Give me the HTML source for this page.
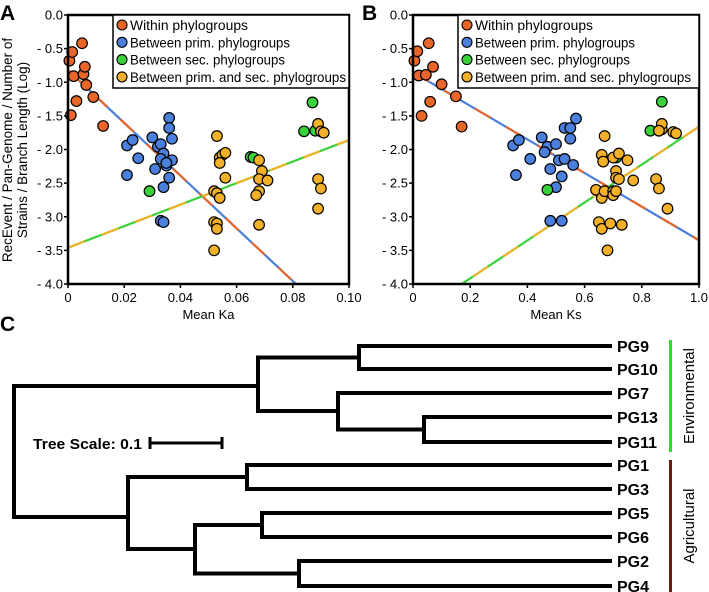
<!DOCTYPE html>
<html><head><meta charset="utf-8"><style>
body{margin:0;background:#fff;}
svg{display:block;font-family:"Liberation Sans",sans-serif;}
</style></head><body>
<svg id="fig" width="709" height="592" viewBox="0 0 709 592" xmlns="http://www.w3.org/2000/svg"></svg>
<script>
// Panel A data (Mean Ka)
const aWithinX=[0.0005,0.0015,0.001,0.002,0.003,0.005,0.0055,0.006,0.0065,0.009,0.0125];
const aWithinY=[-0.68,-0.55,-1.49,-0.91,-1.28,-0.42,-0.88,-0.77,-1.04,-1.22,-1.65];
const aPrimX=[0.021,0.023,0.021,0.025,0.030,0.032,0.033,0.034,0.033,0.031,0.035,0.036,0.036,0.037,0.037,0.036,0.034,0.033,0.034,0.035];
const aPrimY=[-1.94,-1.86,-2.38,-2.13,-1.82,-1.96,-1.92,-2.06,-2.14,-2.29,-2.24,-1.53,-1.68,-1.84,-2.16,-2.42,-2.56,-3.06,-3.08,-2.2];
const aSecX=[0.029,0.065,0.066,0.084,0.087,0.088];
const aSecY=[-2.62,-2.11,-2.12,-1.73,-1.3,-1.72];
const aMixX=[0.053,0.054,0.055,0.056,0.054,0.056,0.052,0.053,0.054,0.052,0.053,0.053,0.052,0.068,0.069,0.068,0.071,0.068,0.067,0.068,0.089,0.090,0.091,0.089,0.090,0.089];
const aMixY=[-1.8,-2.12,-2.08,-2.05,-2.2,-2.42,-2.62,-2.65,-2.72,-3.08,-3.1,-3.18,-3.5,-2.16,-2.32,-2.44,-2.46,-2.62,-2.68,-3.12,-1.62,-1.73,-1.75,-2.44,-2.58,-2.88];
const aFit1=[-0.82,-39.2]; // intercept, slope
const aFit2=[-3.46,16];
const aXTicks=["0","0.02","0.04","0.06","0.08","0.10"];
// Panel B data (Mean Ks)
const bWithinX=[0.005,0.015,0.02,0.03,0.045,0.055,0.06,0.07,0.10,0.15,0.17];
const bWithinY=[-0.68,-0.54,-0.9,-1.5,-0.89,-0.42,-1.29,-0.77,-1.03,-1.21,-1.66];
const bPrimX=[0.35,0.37,0.36,0.41,0.45,0.47,0.46,0.50,0.51,0.53,0.48,0.52,0.50,0.53,0.55,0.55,0.56,0.57,0.48,0.52];
const bPrimY=[-1.94,-1.86,-2.38,-2.14,-1.82,-1.96,-2.04,-1.92,-2.16,-2.14,-2.29,-2.4,-2.56,-1.68,-1.68,-1.84,-2.23,-1.54,-3.06,-3.06];
const bSecX=[0.47,0.71,0.83,0.87,0.86];
const bSecY=[-2.6,-2.12,-1.72,-1.29,-1.72];
const bMixX=[0.67,0.66,0.665,0.70,0.72,0.75,0.71,0.71,0.72,0.77,0.64,0.66,0.67,0.70,0.70,0.71,0.65,0.66,0.69,0.73,0.68,0.87,0.87,0.86,0.91,0.92,0.85,0.86,0.89];
const bMixY=[-1.8,-2.08,-2.18,-2.12,-2.06,-2.16,-2.32,-2.42,-2.44,-2.46,-2.6,-2.72,-2.62,-2.62,-2.68,-2.62,-3.08,-3.18,-3.1,-3.12,-3.5,-1.7,-1.62,-1.72,-1.74,-1.76,-2.44,-2.58,-2.88];
const bFit1=[-0.85,-2.5];
const bFit2=[-4.48,2.82];
const bXTicks=["0","0.2","0.4","0.6","0.8","1.0"];
const yTicks=["0.0","- 0.5","- 1.0","- 1.5","- 2.0","- 2.5","- 3.0","- 3.5","- 4.0"];
const legendLabels=["Within phylogroups","Between prim. phylogroups","Between sec. phylogroups","Between prim. and sec. phylogroups"];
const legendLens=[118,160,155,216];
const colors=["#e8662a","#4a7fdc","#3ad23a","#f3b12a"];

const NS="http://www.w3.org/2000/svg";
const svg=document.getElementById('fig');
function mk(tag,attrs,parent,text){const e=document.createElementNS(NS,tag);for(const k in attrs)e.setAttribute(k,attrs[k]);if(text!==undefined)e.textContent=text;(parent||svg).appendChild(e);return e;}

function panel(id,x0,x1,xmax,letter,xlab,series,fit1,fit2,xticks){
  const y0=15,y1=284;
  const g=mk('g',{});
  
  
  const sx=v=>x0+(v/xmax)*(x1-x0);
  const sy=v=>y0+(-v/4)*(y1-y0);
  const clip=mk('clipPath',{id:'clip'+id},g);
  mk('rect',{x:x0,y:y0,width:x1-x0,height:y1-y0},clip);
  function fitLine(f,c1,c2,name){
    const lx0=0,lx1=xmax;
    const p={x1:sx(lx0),y1:sy(f[0]+f[1]*lx0),x2:sx(lx1),y2:sy(f[0]+f[1]*lx1)};
    const l1=mk('line',Object.assign({stroke:c1,'stroke-width':2.2,'clip-path':'url(#clip'+id+')'},p),g);
    
    
    mk('line',Object.assign({stroke:c2,'stroke-width':2.2,'stroke-dasharray':'18 18','clip-path':'url(#clip'+id+')'},p),g);
  }
  fitLine(fit1,colors[1],colors[0],'fit-line-within-between');
  fitLine(fit2,colors[2],colors[3],'fit-line-sec');
  series.forEach((s,si)=>{
    s[0].forEach((xv,i)=>{
      const c=mk('circle',{cx:sx(xv),cy:sy(s[1][i]),r:5.3,fill:colors[si],stroke:'#000','stroke-width':1.2},g);
      
      
    });
  });
  const fr=mk('rect',{x:x0,y:y0,width:x1-x0,height:y1-y0,fill:'none',stroke:'#000','stroke-width':2.5},g);
  
  
  yTicks.forEach((t,i)=>{
    const yy=y0+i*(y1-y0)/8;
    mk('line',{x1:x0-4,x2:x0,y1:yy,y2:yy,stroke:'#000','stroke-width':1.5},g);
    const tx=mk('text',{x:x0-5,y:yy+4.5,'font-size':13,'text-anchor':'end'},g,t);
    
    
  });
  xticks.forEach((t,i)=>{
    const xx=x0+i*(x1-x0)/5;
    mk('line',{x1:xx,x2:xx,y1:y1,y2:y1+4,stroke:'#000','stroke-width':1.5},g);
    const tx=mk('text',{x:xx,y:302,'font-size':13,'text-anchor':'middle'},g,t);
    
    
  });
  const xl=mk('text',{x:(x0+x1)/2,y:319,'font-size':13,'text-anchor':'middle'},g,xlab);
  
  
  const lt=mk('text',{x:id==='a'?0:362,y:20,'font-size':21,'font-weight':'bold'},g,letter);
  
  
  const lg=mk('g',{},g);
  
  
  const legX=x0+45, legW=(x1-x0)-45;
  mk('rect',{x:legX,y:y0,width:legW,height:73,fill:'#fff',stroke:'#000','stroke-width':1.5},lg);
  legendLabels.forEach((t,i)=>{
    const yy=y0+10+i*17.3;
    mk('circle',{cx:legX+9,cy:yy,r:5,fill:colors[i],stroke:'#000','stroke-width':1.1},lg);
    const tx=mk('text',{x:legX+17,y:yy+5,'font-size':13.5,textLength:legendLens[i],lengthAdjust:'spacingAndGlyphs'},lg,t);
    
    
  });
}
panel('a',68,349,0.1,'A','Mean Ka',[[aWithinX,aWithinY],[aPrimX,aPrimY],[aSecX,aSecY],[aMixX,aMixY]],aFit1,aFit2,aXTicks);
panel('b',413,699,1.0,'B','Mean Ks',[[bWithinX,bWithinY],[bPrimX,bPrimY],[bSecX,bSecY],[bMixX,bMixY]],bFit1,bFit2,bXTicks);
const yl=mk('text',{transform:'translate(12,150) rotate(-90)','font-size':13.5,'text-anchor':'middle'},svg);


mk('tspan',{x:0,dy:0},yl,'RecEvent / Pan-Genome / Number of');
mk('tspan',{x:0,dy:15},yl,'Strains / Branch Length (Log)');

// Panel C tree
const leafNames=["PG9","PG10","PG7","PG13","PG11","PG1","PG3","PG5","PG6","PG2","PG4"];
const leafY=[346,369,393,417,442,465,489,513,537,561,586];
const tg=mk('g',{stroke:'#000','stroke-width':4,fill:'none','stroke-linecap':'square'});


function path(d){mk('path',{d:d},tg);}
const tipX=610;
const leafParent=[359,359,338,424,424,247,247,262,262,299,299];
leafNames.forEach((n,i)=>{
  path(`M${leafParent[i]},${leafY[i]}H${tipX}`);
  const t=mk('text',{x:617,y:leafY[i]+6,'font-size':16,'font-weight':'bold'},svg,n);
  
  
});
path('M359,346V369'); path('M424,417V442');
path('M338,393V429.5 M338,429.5H424');
path('M258,357.5V411 M258,357.5H359 M258,411H338');
path('M247,465V489'); path('M262,513V537'); path('M299,561V586');
path('M195,525V573.5 M195,525H262 M195,573.5H299');
path('M128,477V549 M128,477H247 M128,549H195');
path('M14,386V517 M14,386H258 M14,517H128');
mk('path',{d:'M150,443H222 M150,437V449 M222,437V449',stroke:'#000','stroke-width':3,fill:'none'},svg);
const sc=mk('text',{x:33,y:449,'font-size':15,'font-weight':'bold',textLength:109,lengthAdjust:'spacingAndGlyphs'},svg,'Tree Scale: 0.1');


const cl=mk('text',{x:0,y:331,'font-size':21,'font-weight':'bold'},svg,'C');


const gb=mk('rect',{x:669,y:340,width:3,height:112,fill:'#33d933'},svg);


const bb=mk('rect',{x:669,y:460,width:3,height:132,fill:'#6b1a0e'},svg);


const et=mk('text',{transform:'translate(694,396) rotate(-90)','font-size':15,'text-anchor':'middle'},svg,'Environmental');


const at=mk('text',{transform:'translate(694,526) rotate(-90)','font-size':15,'text-anchor':'middle'},svg,'Agricultural');


</script>
</body></html>
